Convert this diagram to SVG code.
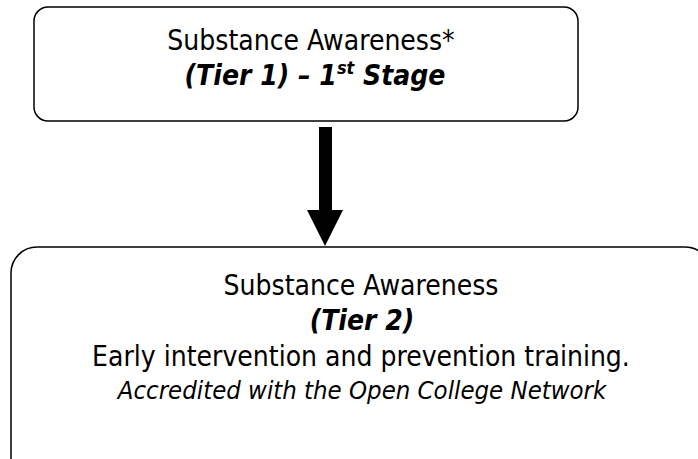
<svg xmlns="http://www.w3.org/2000/svg" width="698" height="459" viewBox="0 0 698 459">
<style>
.box{fill:#fff;stroke:#000;stroke-width:1.5}
text{font-family:"DejaVu Sans Condensed","DejaVu Sans","Liberation Sans",sans-serif;font-stretch:condensed;font-size:28px;fill:#000;text-anchor:middle}
.bi{font-weight:bold;font-style:italic}
.it{font-style:italic;font-size:25.5px}
</style>
<rect width="698" height="459" fill="#fff"/>
<g id="node-tier1">
<rect class="box" x="34" y="7" width="544" height="114" rx="14"/>
<text x="311" y="50">Substance Awareness*</text>
<text x="315" y="85" class="bi" font-size="29">(Tier 1) – 1<tspan font-size="18" dy="-11">st</tspan><tspan dy="11"> Stage</tspan></text>
</g>
<g id="node-tier2">
<rect class="box" x="11" y="247" width="700" height="240" rx="26"/>
<text x="361" y="295">Substance Awareness</text>
<text x="362" y="330" class="bi">(Tier 2)</text>
<text x="361" y="366">Early intervention and prevention training.</text>
<text x="362" y="399" class="it">Accredited with the Open College Network</text>
</g>
<g id="connectors">
<rect x="319" y="127" width="13" height="85" fill="#000"/>
<polygon points="307,210 343,210 325,246" fill="#000"/>
</g>
</svg>
